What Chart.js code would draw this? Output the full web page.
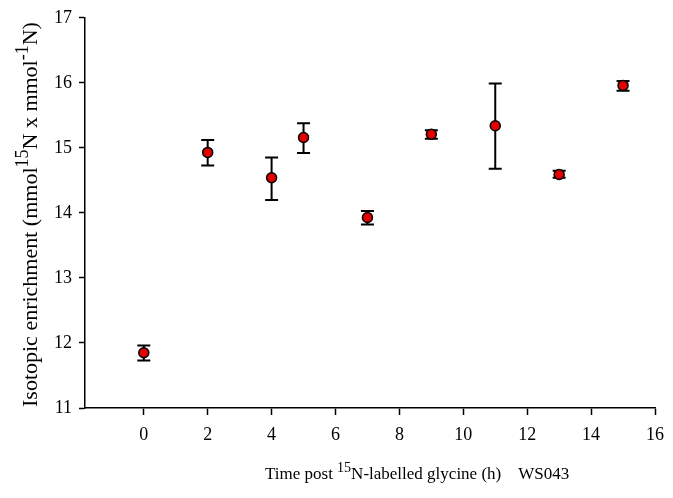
<!DOCTYPE html>
<html>
<head>
<meta charset="utf-8">
<script src="https://cdn.jsdelivr.net/npm/chart.js@4/dist/chart.umd.min.js"></script>
<style>
  html, body { margin: 0; padding: 0; background: #fff; }
  #wrap { width: 673px; height: 498px; }
</style>
</head>
<body>
<div id="wrap"><canvas id="myChart" width="673" height="498"></canvas></div>
<script>
// sampling times (h) and enrichment means with error bar ends
const hours = [0, 2, 4, 5, 7, 9, 11, 13, 15];
const enrichment = [11.85, 14.93, 14.54, 15.16, 13.93, 15.21, 15.34, 14.59, 15.96];
const errLow = [11.73, 14.73, 14.20, 14.92, 13.82, 15.14, 14.68, 14.54, 15.88];
const errHigh = [11.96, 15.12, 14.85, 15.38, 14.03, 15.27, 15.99, 14.65, 16.03];
const xTicks = [0, 2, 4, 6, 8, 10, 12, 14, 16];
const yTicks = [11, 12, 13, 14, 15, 16, 17];

const serif = "'Liberation Serif', 'Times New Roman', serif";

// text runs with superscripts, drawn onto the canvas
function drawRuns(ctx, runs, size) {
    let x = 0;
    runs.forEach(r => {
        const s = r.sup ? Math.round(size * 0.8) : size;
        ctx.font = s + "px " + serif;
        ctx.fillText(r.t, x, r.sup ? -size * 0.4 : 0);
        x += ctx.measureText(r.t).width;
    });
    return x;
}

const errorBars = {
    id: "errorBars",
    beforeDatasetsDraw(chart) {
        const ctx = chart.ctx;
        const xs = chart.scales.x, ys = chart.scales.y;
        ctx.save();
        ctx.strokeStyle = "#000";
        ctx.lineWidth = 2;
        hours.forEach((h, i) => {
            const px = xs.getPixelForValue(h);
            const top = ys.getPixelForValue(errHigh[i]);
            const bot = ys.getPixelForValue(errLow[i]);
            ctx.beginPath();
            ctx.moveTo(px, top); ctx.lineTo(px, bot);
            ctx.moveTo(px - 6.5, top); ctx.lineTo(px + 6.5, top);
            ctx.moveTo(px - 6.5, bot); ctx.lineTo(px + 6.5, bot);
            ctx.stroke();
        });
        ctx.restore();
    }
};

const axisTitles = {
    id: "axisTitles",
    afterDraw(chart) {
        const ctx = chart.ctx;
        ctx.save();
        ctx.fillStyle = "#000";
        ctx.textBaseline = "alphabetic";
        ctx.textAlign = "left";

        ctx.save();
        ctx.translate(265, 479);
        drawRuns(ctx, [
            { t: "Time post " },
            { t: "15", sup: true },
            { t: "N-labelled glycine (h)    WS043" }
        ], 17);
        ctx.restore();

        ctx.save();
        ctx.translate(37, 407);
        ctx.rotate(-Math.PI / 2);
        drawRuns(ctx, [
            { t: "Isotopic enrichment (mmol" },
            { t: "15", sup: true },
            { t: "N x mmol" },
            { t: "-1", sup: true },
            { t: "N)" }
        ], 22);
        ctx.restore();

        ctx.restore();
    }
};

const data = {
    datasets: [
        {
            label: "WS043",
            data: hours.map((h, i) => ({ x: h, y: enrichment[i] })),
            backgroundColor: "#e40000",
            borderColor: "#000",
            borderWidth: 1.5,
            pointRadius: 5,
            pointHoverRadius: 5,
            showLine: false
        }
    ]
};

const config = {
    type: "scatter",
    data: data,
    options: {
        responsive: false,
        animation: false,
        layout: { padding: { top: 13, right: 16, left: 0, bottom: 0 } },
        plugins: {
            legend: { display: false },
            tooltip: { enabled: false }
        },
        scales: {
            x: {
                type: "linear",
                min: -1.84,
                max: 16,
                afterBuildTicks: scale => { scale.ticks = xTicks.map(v => ({ value: v })); },
                afterFit: scale => { scale.height = 90; },
                grid: { drawOnChartArea: false, tickLength: 7, tickColor: "#000", tickWidth: 1.5 },
                border: { color: "#000", width: 1.5 },
                ticks: { color: "#000", padding: 9, maxRotation: 0, font: { family: serif, size: 18 } }
            },
            y: {
                min: 11,
                max: 17,
                afterBuildTicks: scale => { scale.ticks = yTicks.map(v => ({ value: v })); },
                afterFit: scale => { scale.width = 85; },
                grid: { drawOnChartArea: false, tickLength: 6, tickColor: "#000", tickWidth: 1.5 },
                border: { color: "#000", width: 1.5 },
                ticks: { color: "#000", padding: 7, font: { family: serif, size: 18 } }
            }
        }
    },
    plugins: [errorBars, axisTitles]
};

new Chart(document.getElementById("myChart"), config);
</script>
</body>
</html>
